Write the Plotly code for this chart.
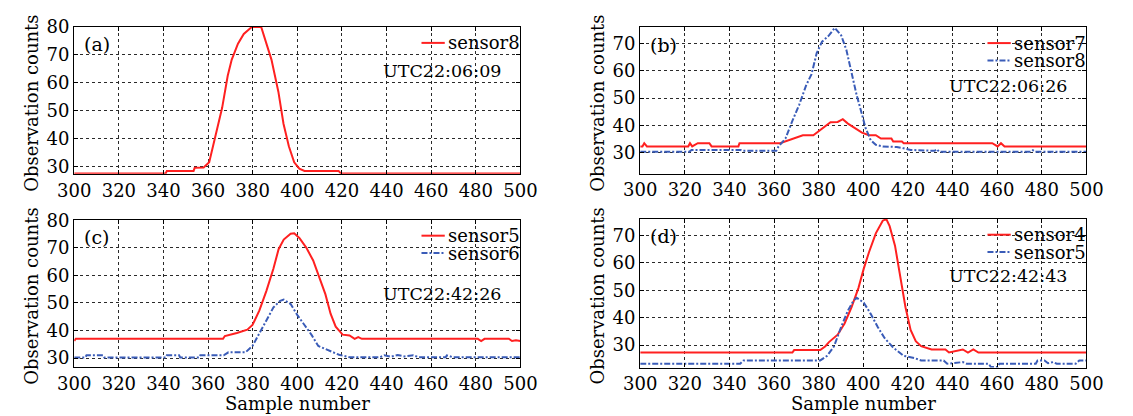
import plotly.graph_objects as go

# ---------------- data: sample number vs observation counts ----------------
# (a) UTC22:06:09
a_x = [300, 341, 341.5, 353.5, 354, 358, 360.5, 362.9, 366.3, 368.8, 370.6, 373.4, 376,
       378.4, 379.6, 383.8, 385.3, 388.4, 391.5, 393.8, 396.2, 398.6, 400.9, 403.2, 418.5,
       419.5, 500]
a_sensor8 = [27.5, 27.5, 28.4, 28.4, 29.5, 29.6, 31.5, 39.6, 51, 62.5, 68.3, 74, 77.5,
             79.2, 80, 80, 76.3, 68.3, 56.8, 45.3, 37.2, 31.5, 29.2, 28.4, 28.4,
             27.5, 27.5]

# (b) UTC22:06:26
b_x7 = [300, 301, 301.8, 303, 321.5, 322.3, 323.3, 325.8, 331, 332, 344, 344.5, 362.7,
        368.2, 372.9, 377.6, 380.7, 385.3, 388.5, 390.8, 393.1, 396.3, 399.4, 402.5, 405.6,
        407.9, 412.6, 413.4, 417.3, 418.1, 457.8, 460.2, 461.7, 463.3, 500]
b_sensor7 = [32.2, 32.2, 33.4, 32.2, 32.2, 33.4, 32.2, 33.4, 33.4, 32.2, 32.2, 33.4, 33.4,
             35.1, 36.3, 36.3, 38.1, 41.1, 41.2, 42.2, 40.6, 38.8, 37.3, 36.3, 36.3,
             35.1, 35.1, 34, 34, 33.4, 33.4, 32.2, 33.4, 32.2, 32.2]
b_x8 = [300, 322, 323, 345, 346, 361, 362, 365.1, 368.2, 371.3, 374.4, 376.8, 379.1, 381.5,
        384.6, 387.2, 390.1, 392.4, 394.7, 397, 399.4, 400.9, 403.3, 405.6, 408.7, 415,
        418.1, 421.2, 432, 433, 434, 460, 475, 476, 477, 500]
b_sensor8 = [30.2, 30.2, 30.9, 30.9, 30.6, 30.6, 32.2, 35.1, 41.6, 47.6, 54.7, 58.8, 66.5,
             70.7, 73, 75.8, 73, 67.7, 59.4, 51.1, 44, 39.2, 34.5, 32.8, 32.2, 32,
             31.5, 30.9, 30.6, 31.2, 30.2, 30.2, 30.2, 30.8, 30.2, 30.2]

# (c) UTC22:42:26
c_x5 = [300, 300.7, 366.7, 367.5, 372.9, 377.6, 379.9, 383, 386.1, 389.3, 391.6, 393.9,
        397, 398.6, 400.9, 404, 407.1, 409.4, 412.6, 414.9, 417.2, 420.3, 423.4, 425.7,
        427.3, 428.9, 480.9, 482.4, 483.9, 494.8, 496.2, 498, 500]
c_sensor5 = [36.2, 37, 37, 38, 39.1, 40.3, 42, 47.3, 54.3, 62.5, 69.5, 73,
             75.1, 75.3, 73.6, 70.1, 65.4, 60.2, 53.1, 46.1, 41.4, 38.5, 38.2, 37,
             37.6, 37, 37, 36.2, 37, 37, 36.2, 36.5, 36.2]
c_x6 = [300, 305, 305.5, 313, 313.5, 341, 341.5, 347, 347.5, 356, 356.5, 367, 369.1,
        376.8, 379.9, 383, 386.1, 389.3, 392.3, 393.9, 397, 400.1, 403.2, 406.3, 409.4,
        414.1, 418.7, 423.4, 437, 439, 442, 445, 448, 452, 454.5, 466.5, 467, 469.8, 500]
c_sensor6 = [30.2, 30.2, 31, 31, 30.2, 30.2, 31, 31, 30.2, 30.2, 31, 31, 32.1,
             32.1, 34.4, 39.1, 43.8, 48.4, 50.8, 51.2, 49.6, 45.5, 42, 38.5, 34.4,
             32.7, 31.2, 30.3, 30.3, 31, 30.5, 31.1, 30.6, 31, 30.3, 30.3, 31, 30.3, 30.3]

# (d) UTC22:42:43
d_x4 = [300, 368.2, 369, 380.7, 383, 384.6, 388.5, 391.6, 394.7, 397.8, 400.2, 402.5,
        405.6, 408.7, 410.3, 411.8, 414.2, 416.5, 418.9, 421.2, 423.5, 425.9, 430.6,
        436.8, 438.4, 444.6, 446.9, 449.3, 451.6, 500]
d_sensor4 = [27.3, 27.3, 28.2, 28.2, 29.6, 31.1, 33.8, 37.9, 43.8, 50.8, 57.9, 63.8,
             70.8, 75.4, 76, 73.4, 66.3, 55.5, 43.8, 35.5, 31.4, 29.6, 28.4,
             28.4, 27.3, 28.4, 27.3, 28.4, 27.3, 27.3]
d_x5 = [300, 344.8, 346.3, 380.7, 383.8, 386.9, 390.1, 393.1, 395.5, 397, 400.2, 403.3,
        406.4, 409.5, 413.4, 418.1, 422.8, 425.9, 436, 437.6, 444.6, 446.3, 456.3, 457.1,
        460.2, 461, 477.3, 478.1, 481.2, 482.8, 485.1, 486.7, 495.2, 496.8, 500]
d_sensor5 = [23.2, 23.2, 24.4, 24.4, 26.1, 29.6, 36.7, 42.6, 46.1, 47.3, 45.5, 41.4,
             36.7, 32.6, 29.1, 26.1, 25.3, 24.4, 24.4, 23.2, 23.8, 23.2, 23.2, 22,
             22, 23.2, 23.2, 24.4, 24.4, 23.4, 23.8, 23.2, 23.2, 24.4, 24.4]

x_ticks = list(range(300, 501, 20))
panel_labels = ["(a)", "(b)", "(c)", "(d)"]
utc_labels = ["UTC22:06:09", "UTC22:06:26", "UTC22:42:26", "UTC22:42:43"]
y_ranges = [[27.35, 80], [22.2, 76.05], [26.8, 80.2], [21.8, 76.1]]

# ---------------- styling ----------------
W, H = 1133, 416
FONT = "DejaVu Serif"
TICK_SIZE = 18
LABEL_SIZE = 18
RED = "#ff2020"
BLUE = "#3a5cb8"
RED_LINE = dict(color=RED, width=2)
BLUE_LINE = dict(color=BLUE, width=2, dash="6px,2px,2px,2px")

# series per panel: (x, y, name, line style)
panels = [
    [(a_x, a_sensor8, "sensor8", RED_LINE)],
    [(b_x7, b_sensor7, "sensor7", RED_LINE), (b_x8, b_sensor8, "sensor8", BLUE_LINE)],
    [(c_x5, c_sensor5, "sensor5", RED_LINE), (c_x6, c_sensor6, "sensor6", BLUE_LINE)],
    [(d_x4, d_sensor4, "sensor4", RED_LINE), (d_x5, d_sensor5, "sensor5", BLUE_LINE)],
]

# plot-area boxes in page pixels: left, right, top, bottom
boxes = [(59, 519, 16.5, 168.5), (642.5, 1102.5, 16.7, 168.3),
         (59, 519, 216, 368.3), (642.5, 1102.5, 215, 369)]
utc_dy = [45.5, 61, 76.5, 59]


def px(x):
    return x / W


def py(y):
    return 1 - y / H


fig = go.Figure()
shapes, annotations = [], []
layout = {}

for i, (series, box) in enumerate(zip(panels, boxes)):
    n = "" if i == 0 else str(i + 1)
    L, R, T, B = box
    for xs, ys, name, line in series:
        fig.add_trace(go.Scatter(x=xs, y=ys, mode="lines", name=name, line=line,
                                 xaxis="x" + n, yaxis="y" + n, showlegend=False))

    common = dict(showgrid=True, gridcolor="#2a2a2a", gridwidth=1, griddash="3px,3px",
                  showline=True, linecolor="black", linewidth=1.2, mirror="ticks",
                  ticks="inside", ticklen=4, tickcolor="black", zeroline=False,
                  tickfont=dict(family=FONT, size=TICK_SIZE, color="black"))
    layout["xaxis" + n] = dict(common, domain=[px(L), px(R)], anchor="y" + n,
                               range=[300, 500], tickvals=x_ticks)
    layout["yaxis" + n] = dict(common, domain=[py(B), py(T)], anchor="x" + n,
                               range=y_ranges[i], dtick=10, tick0=0)

    # legend: white backing, sample line and name for every series
    rows = len(series)
    shapes.append(dict(type="rect", layer="between", xref="paper", yref="paper",
                       x0=px(R - 110), x1=px(R - 1), y0=py(T + 8 + 19 * rows), y1=py(T + 1),
                       fillcolor="white", line=dict(width=0)))
    for k, (xs, ys, name, line) in enumerate(series):
        yy = T + 16.5 + 18 * k
        shapes.append(dict(type="line", xref="paper", yref="paper", layer="above",
                           x0=px(R - 102), x1=px(R - 78), y0=py(yy), y1=py(yy),
                           line=line))
        annotations.append(dict(text=name, xref="paper", yref="paper", x=px(R - 77),
                                y=py(yy), xanchor="left", yanchor="middle", showarrow=False,
                                font=dict(family=FONT, size=LABEL_SIZE, color="black")))

    annotations.append(dict(text=panel_labels[i], xref="paper", yref="paper", x=px(L + 8),
                            y=py(T + 18), xanchor="left", yanchor="middle", showarrow=False,
                            font=dict(family=FONT, size=LABEL_SIZE + 1, color="black")))
    annotations.append(dict(text=utc_labels[i], xref="paper", yref="paper", x=px(R - 18),
                            y=py(T + utc_dy[i]), xanchor="right", yanchor="middle",
                            showarrow=False, font=dict(family=FONT, size=17.5,
                                                       color="black")))
    annotations.append(dict(text="Observation counts", xref="paper", yref="paper",
                            x=px(L - 44), y=py((T + B) / 2 + 3), textangle=-90,
                            xanchor="center", yanchor="middle", showarrow=False,
                            font=dict(family=FONT, size=LABEL_SIZE, color="black")))
    if i >= 2:
        annotations.append(dict(text="Sample number", xref="paper", yref="paper",
                                x=px((L + R) / 2), y=py(406), xanchor="center",
                                yanchor="middle", showarrow=False,
                                font=dict(family=FONT, size=LABEL_SIZE, color="black")))

fig.update_layout(width=W, height=H, margin=dict(l=0, r=0, t=0, b=0),
                  paper_bgcolor="white", plot_bgcolor="white",
                  font=dict(family=FONT, color="black"),
                  shapes=shapes, annotations=annotations, **layout)

fig.write_html("out.html")
